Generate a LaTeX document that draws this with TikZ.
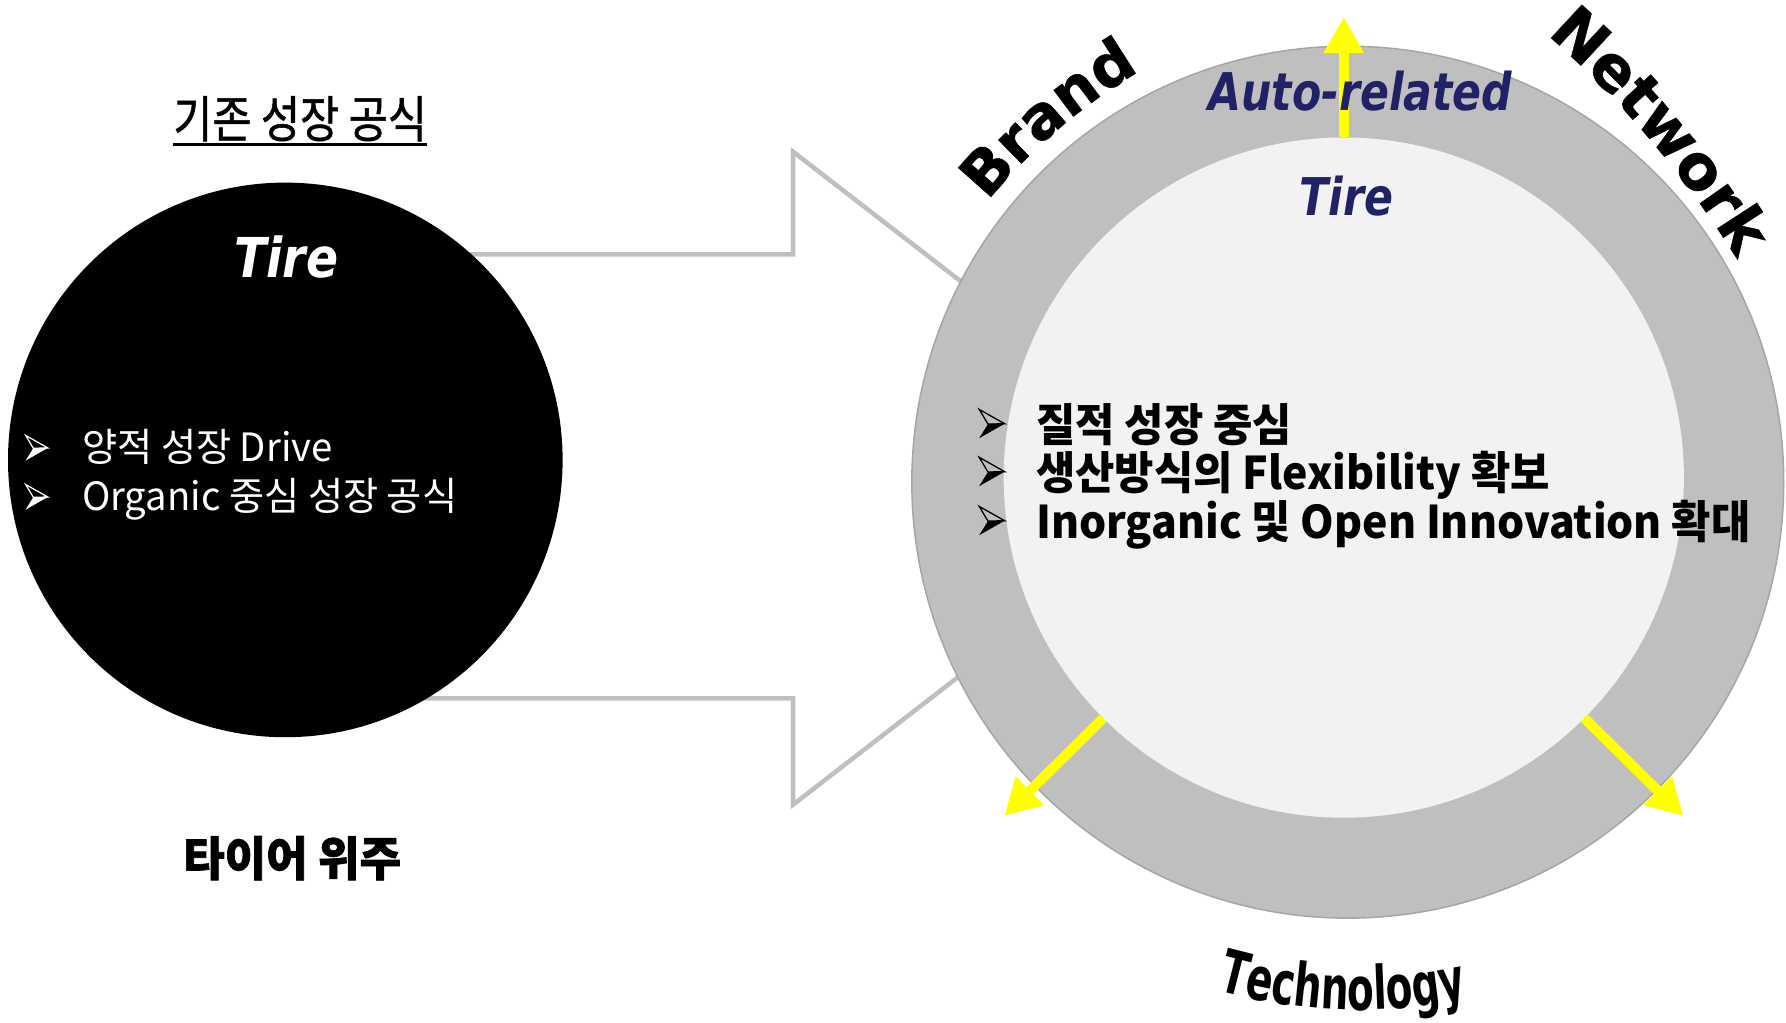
\documentclass[tikz,border=0pt]{standalone}
\usepackage{fontspec}
\usetikzlibrary{arrows.meta,decorations.text,calc}
\newfontfamily\krT{Noto Sans CJK KR}[FakeStretch=0.85,FakeBold=1]
\newfontfamily\krL{Noto Sans CJK KR}[FakeStretch=0.98]
\newfontfamily\krR{Noto Sans CJK KR}[FakeStretch=0.95]
\newfontfamily\krH{Noto Sans CJK KR}[FakeStretch=0.96,BoldFeatures={FakeBold=1.5}]
\newfontfamily\dvI{DejaVu Sans}[FakeStretch=0.82]
\newfontfamily\dvJ{DejaVu Sans}[FakeStretch=0.86]
\newfontfamily\dvW{DejaVu Sans}[BoldFeatures={FakeBold=0.8}]
\newfontfamily\dvT{DejaVu Sans}[FakeStretch=0.65]
\definecolor{navy}{RGB}{33,33,102}
\definecolor{ringgray}{RGB}{191,191,191}
\definecolor{ringline}{RGB}{166,166,166}
\definecolor{innergray}{RGB}{242,242,242}
\definecolor{arrgray}{RGB}{191,191,191}
\definecolor{yel}{RGB}{255,255,0}
\begin{document}
\begin{tikzpicture}[x=1.1412pt,y=-1.1412pt,
  txt/.style={inner sep=0pt,outer sep=0pt},
  bigarr/.style={draw=arrgray,line width=4.5pt,fill=white,line join=miter},
  yarr/.style={draw=yel,line width=10pt,-{Triangle[length=36pt,width=38pt]}},
  italfont/.style={font=\dvI\bfseries\itshape\fontsize{52}{52}\selectfont},
  leftline/.style={txt,anchor=base west,text=white,font=\krL\fontsize{39}{39}\selectfont},
  rightline/.style={txt,anchor=base west,text=black,font=\krR\bfseries\fontsize{45}{45}\selectfont},
  bulB/.pic={
    \draw[black,line width=1.3pt,line join=miter] (0,-12.6) -- (22.3,0) -- (7.7,0.3) -- cycle;
    \fill[black] (7.7,0.3) -- (22.3,0) -- (0,12.7) -- cycle;},
  bulW/.pic={
    \draw[white,line width=1.2pt,line join=miter] (0,-12.6) -- (22.3,0) -- (7.7,0.3) -- cycle;
    \fill[white] (7.7,0.3) -- (22.3,0) -- (0,12.7) -- cycle;},
  ]
\useasboundingbox (0,0) rectangle (1565,896.4);
\fill[white] (0,0) rectangle (1565,896.4);

% title
\node[txt,font=\krT\fontsize{50}{50}\selectfont] (title) at (263,104) {기존 성장 공식};
\draw[line width=2.6pt] ($(title.base west)+(0,6)$) -- ($(title.base east)+(0,6)$);

% big outline arrow
\draw[bigarr] (250,223) -- (695,223) -- (695,133) -- (1065,419) -- (695,705) -- (695,612) -- (250,612) -- cycle;

% left circle
\node[circle,fill=black,inner sep=0pt,minimum size=554.6pt] (oldc) at (250,403) {};
\node[txt,font=\dvJ\bfseries\itshape\fontsize{55}{55}\selectfont,text=white] (tireL) at (251,225) {Tire};
\pic[scale=0.87] at (22.5,392.5) {bulW};
\pic[scale=0.87] at (22.5,435.5) {bulW};
\node[leftline] (l1) at (72,404.5) {양적 성장 Drive};
\node[leftline] (l2) at (72,447.5) {Organic 중심 성장 공식};

\node[txt,font=\krH\bfseries\fontsize{47}{47}\selectfont] (bottom) at (256,752) {타이어 위주};

% ring
\node[circle,fill=ringgray,draw=ringline,line width=1.5pt,inner sep=0pt,minimum size=871.9pt] (outer) at (1181,422.5) {};
\node[circle,fill=innergray,inner sep=0pt,minimum size=680.2pt] (inner) at (1177.5,418.5) {};

% yellow arrows
\coordinate (ya1) at (1177.5,15);
\coordinate (ya2) at (880,715);
\coordinate (ya3) at (1475,715);
\draw[yarr] (inner.north) -- (ya1);
\draw[yarr] (inner.south west) -- (ya2);
\draw[yarr] (inner.south east) -- (ya3);

% ring texts
\node[txt,italfont,text=navy] (auto) at (1192,80) {Auto-related};
\node[txt,italfont,text=navy] (tireR) at (1180,172) {Tire};

% right bullets
\pic at (858,371.3) {bulB};
\pic at (858,413.3) {bulB};
\pic at (858,456.3) {bulB};
\node[rightline] (r1) at (908,386.7) {질적 성장 중심};
\node[rightline] (r2) at (908,428.7) {생산방식의 Flexibility 확보};
\node[rightline] (r3) at (908,471.7) {Inorganic 및 Open Innovation 확대};

% curved labels
\path[decorate,decoration={text along path,text align=center,
  text={|\dvW\bfseries\fontsize{60}{60}\selectfont|Brand}}]
  (1251.8,493.6) ++(209.5:500) arc[start angle=209.5,end angle=249.5,radius=500];
\path[decorate,decoration={text along path,text align=center,
  text={|\dvW\bfseries\fontsize{62}{62}\selectfont|Network}}]
  (774.3,690.9) ++(304.75:880) arc[start angle=304.75,end angle=334.75,radius=880];
\path[decorate,decoration={text along path,text align=center,
  text={|\dvT\bfseries\fontsize{60}{60}\selectfont|Technology}}]
  (1192,425) ++(112:460) arc[start angle=112,end angle=72,radius=460];
\end{tikzpicture}
\end{document}
